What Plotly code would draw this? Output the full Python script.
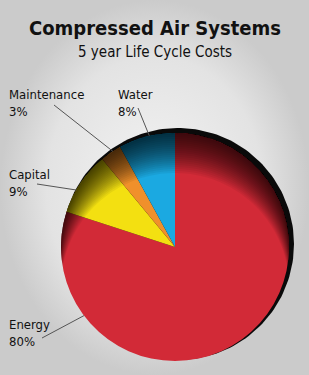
import numpy as np
import plotly.graph_objects as go

W, H = 309, 375
categories = ["Energy", "Capital", "Maintenance", "Water"]
values = [80, 9, 3, 8]
colors = ["#d22a37", "#f3e011", "#f0902b", "#1ba9e1"]
label_text = ["Energy<br>80%", "Capital<br>9%", "Maintenance<br>3%", "Water<br>8%"]

# geometry (pixels)
cx, cy, r = 175, 247, 114

fig = go.Figure()

# background vignette
fig.add_trace(go.Scatter(
    x=[0, W, W, 0, 0], y=[0, 0, H, H, 0], mode="lines", fill="toself",
    line=dict(width=0), hoverinfo="skip", showlegend=False,
    fillgradient=dict(type="radial", colorscale=[[0, "#f3f3f3"], [0.7, "#e3e3e3"], [1, "#cbcbcb"]]),
))

# black rim (shadow circle)
t = np.linspace(0, 2 * np.pi, 200)
fig.add_trace(go.Scatter(
    x=cx + 3 + (r + 2) * np.cos(t), y=cy - 3 + (r + 2) * np.sin(t),
    mode="lines", fill="toself", fillcolor="#0a0a0a", line=dict(width=0, color="#0a0a0a"),
    hoverinfo="skip", showlegend=False,
))

fig.add_trace(go.Pie(
    labels=categories, values=values, sort=False, direction="clockwise", rotation=0,
    marker=dict(colors=colors, line=dict(width=0)), textinfo="none", hoverinfo="label+percent",
    domain=dict(x=[(cx - r) / W, (cx + r) / W], y=[(H - cy - r) / H, (H - cy + r) / H]),
    showlegend=False,
))

# inner shadow along the upper rim (stacked translucent crescents)
for k in range(1, 21):
    d = 2 * k
    s = np.arcsin(d / 2 / r)
    ang_out = np.linspace(np.pi - s, 2 * np.pi + s, 80)
    ox, oy = cx + r * np.cos(ang_out), cy + r * np.sin(ang_out)
    ang_in = np.linspace(2 * np.pi - s, np.pi + s, 80)
    ix, iy = cx + r * np.cos(ang_in), cy + d + r * np.sin(ang_in)
    px = np.concatenate([ox, ix])
    py = np.concatenate([oy, iy])
    path = "M " + " L ".join(f"{a:.2f},{b:.2f}" for a, b in zip(px, py)) + " Z"
    fig.add_shape(type="path", path=path, xref="x", yref="y", fillcolor="#000000",
                  opacity=0.055, line=dict(width=0), layer="above")

# labels and leader lines
label_pos = {"Energy": (7, 333), "Capital": (7, 183), "Maintenance": (7, 103), "Water": (116, 103)}
line_start = {"Energy": (42, 338), "Capital": (37, 184), "Maintenance": (54, 105), "Water": (138, 108)}
edge_angle = {"Energy": 233, "Capital": 300, "Maintenance": 327, "Water": 347}

for cat, txt in zip(categories, label_text):
    x0, y0 = label_pos[cat]
    fig.add_annotation(x=x0, y=y0, xref="x", yref="y", text=txt, showarrow=False,
                       xanchor="left", yanchor="middle", align="left",
                       font=dict(family="DejaVu Sans Condensed", size=13, color="#111111"))
    a = np.deg2rad(edge_angle[cat])
    ex, ey = cx + r * np.sin(a), cy - r * np.cos(a)
    sx, sy = line_start[cat]
    fig.add_shape(type="line", x0=sx, y0=sy, x1=ex, y1=ey, xref="x", yref="y",
                  line=dict(color="#555555", width=1), layer="above")

fig.add_annotation(x=W / 2, y=28, xref="x", yref="y", text="<b>Compressed Air Systems</b>",
                   showarrow=False, font=dict(family="DejaVu Sans Condensed", size=20, color="#111111"))
fig.add_annotation(x=W / 2, y=52, xref="x", yref="y", text="5 year Life Cycle Costs",
                   showarrow=False, font=dict(family="DejaVu Sans Condensed", size=15, color="#111111"))

fig.update_layout(
    width=W, height=H, margin=dict(l=0, r=0, t=0, b=0),
    paper_bgcolor="#e6e6e6", plot_bgcolor="#e6e6e6",
    xaxis=dict(range=[0, W], visible=False, domain=[0, 1], fixedrange=True),
    yaxis=dict(range=[H, 0], visible=False, domain=[0, 1], fixedrange=True),
)
fig.write_html("out.html", config={"displayModeBar": False})
